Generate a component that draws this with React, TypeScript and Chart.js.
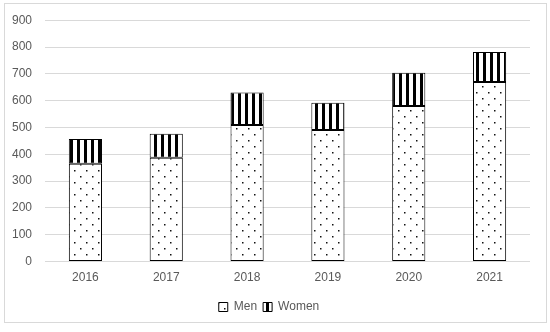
import React, { useEffect, useRef } from "react";
import { Chart, registerables } from "chart.js";

Chart.register(...registerables);

const years = ["2016", "2017", "2018", "2019", "2020", "2021"];
const men = [364, 387, 509, 490, 580, 669];
const women = [93, 89, 121, 102, 124, 112];
const yTicks = [0, 100, 200, 300, 400, 500, 600, 700, 800, 900];

function dotPattern(): CanvasPattern | string {
  const c = document.createElement("canvas");
  c.width = 12;
  c.height = 12;
  const g = c.getContext("2d");
  if (!g) return "#fff";
  g.fillStyle = "#fff";
  g.fillRect(0, 0, 12, 12);
  g.fillStyle = "#111";
  g.fillRect(2, 2, 1.5, 1.5);
  g.fillRect(8, 8, 1.5, 1.5);
  return g.createPattern(c, "repeat") || "#fff";
}

function stripePattern(): CanvasPattern | string {
  const c = document.createElement("canvas");
  c.width = 7;
  c.height = 7;
  const g = c.getContext("2d");
  if (!g) return "#000";
  g.fillStyle = "#fff";
  g.fillRect(0, 0, 7, 7);
  g.fillStyle = "#000";
  g.fillRect(0, 0, 3, 7);
  return g.createPattern(c, "repeat") || "#000";
}

export default function App() {
  const ref = useRef<HTMLCanvasElement | null>(null);
  useEffect(() => {
    document.body.style.margin = "0";
    if (!ref.current) return;
    const chart = new Chart(ref.current, {
      type: "bar",
      data: {
        labels: years,
        datasets: [
          {
            label: "Men",
            data: men,
            backgroundColor: dotPattern() as any,
            borderColor: "#000",
            borderWidth: 1,
            borderSkipped: false,
            categoryPercentage: 0.82,
            barPercentage: 0.5,
          },
          {
            label: "Women",
            data: women,
            backgroundColor: stripePattern() as any,
            borderColor: "#000",
            borderWidth: 1,
            borderSkipped: false,
            categoryPercentage: 0.82,
            barPercentage: 0.5,
          },
        ],
      },
      options: {
        animation: false,
        responsive: false,
        layout: { padding: { left: 8, right: 20, top: 11, bottom: 9 } },
        plugins: {
          tooltip: { enabled: false },
          legend: {
            position: "bottom",
            title: {
              display: true,
              text: "",
              font: { size: 1 },
              padding: { top: 4, bottom: 4 },
            },
            labels: {
              boxWidth: 9,
              boxHeight: 9,
              padding: 6,
              color: "#595959",
              font: { family: "Liberation Sans, Arial, sans-serif", size: 12 },
            },
          },
        },
        scales: {
          x: {
            stacked: true,
            grid: { display: false },
            border: { display: false },
            ticks: {
              color: "#595959",
              padding: 1,
              font: { family: "Liberation Sans, Arial, sans-serif", size: 12 },
            },
          },
          y: {
            stacked: true,
            min: 0,
            max: 900,
            afterBuildTicks: (axis: any) => {
              axis.ticks = yTicks.map((v) => ({ value: v }));
            },
            afterFit: (axis: any) => {
              axis.width = 37;
            },
            grid: { color: "#d9d9d9", drawTicks: false },
            border: { display: false },
            ticks: {
              color: "#595959",
              padding: 13,
              font: { family: "Liberation Sans, Arial, sans-serif", size: 12 },
            },
          },
        },
      },
    });
    return () => chart.destroy();
  }, []);
  return (
    <div style={{ position: "relative", width: 550, height: 332, background: "#fff" }}>
      <canvas ref={ref} width={550} height={332} style={{ display: "block" }} />
      <div
        style={{
          position: "absolute",
          left: 4,
          top: 3,
          width: 541,
          height: 318,
          border: "1px solid #d9d9d9",
          pointerEvents: "none",
        }}
      />
    </div>
  );
}
